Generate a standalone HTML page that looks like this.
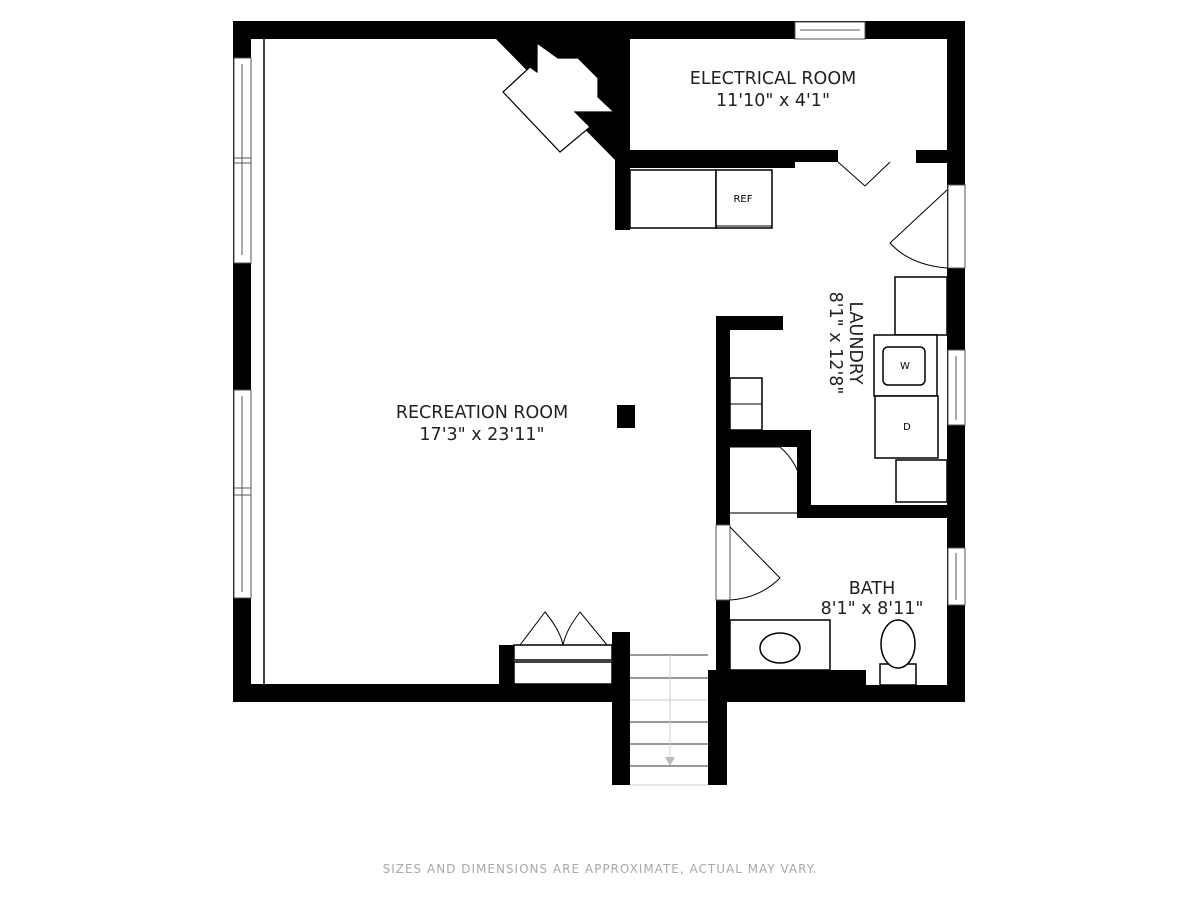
<!DOCTYPE html>
<html><head><meta charset="utf-8"><style>
html,body{margin:0;padding:0;background:#fff;}
svg{display:block;}
text{font-family:"DejaVu Sans","Liberation Sans",sans-serif;}
</style></head><body>
<svg width="1200" height="900" viewBox="0 0 1200 900" xmlns="http://www.w3.org/2000/svg">
<rect width="1200" height="900" fill="#fff"/>
<g fill="#000">
<rect x="233" y="21" width="732" height="18"/>
<rect x="233" y="21" width="18" height="681"/>
<rect x="947" y="21" width="18" height="681"/>
<rect x="233" y="684" width="397" height="18"/>
<rect x="716" y="685" width="249" height="17"/>
<rect x="728" y="670" width="138" height="16"/>
<rect x="612" y="632" width="18" height="153"/>
<rect x="708" y="670" width="19" height="115"/>
<rect x="499" y="645" width="15" height="40"/>
<polygon points="496,39 630,39 630,160 615,160"/>
<rect x="615" y="39" width="15" height="191"/>
<rect x="615" y="150" width="180" height="18"/>
<rect x="795" y="150" width="43" height="12"/>
<rect x="916" y="150" width="31" height="13"/>
<rect x="716" y="316" width="14" height="370"/>
<rect x="716" y="316" width="67" height="14"/>
<rect x="730" y="430" width="81" height="17"/>
<rect x="797" y="430" width="14" height="88"/>
<rect x="797" y="505" width="150" height="13"/>
<rect x="617" y="405" width="18" height="23"/>
</g>
<polygon points="537,43 558,58 578,58 598,78 598,97 614,112 575,112 590,127 560,152 503,92 530,67 537,72" fill="#fff" stroke="#000" stroke-width="1.2"/>
<g fill="#fff" stroke="#555" stroke-width="1">
<rect x="234" y="58" width="17" height="205"/>
<rect x="234" y="390" width="17" height="208"/>
<rect x="795" y="22" width="70" height="17"/>
<rect x="948" y="350" width="17" height="75"/>
<rect x="948" y="548" width="17" height="57"/>
</g>
<g stroke="#555" stroke-width="1">
<line x1="242" y1="64" x2="242" y2="255"/><line x1="234" y1="158" x2="251" y2="158"/><line x1="234" y1="163" x2="251" y2="163"/>
<line x1="242" y1="396" x2="242" y2="592"/><line x1="234" y1="488" x2="251" y2="488"/><line x1="234" y1="495" x2="251" y2="495"/>
<line x1="800" y1="30" x2="860" y2="30"/>
<line x1="956" y1="356" x2="956" y2="420"/>
<line x1="956" y1="553" x2="956" y2="600"/>
</g>
<rect x="948" y="185" width="17" height="83" fill="#fff" stroke="#555"/>
<rect x="716" y="525" width="14" height="75" fill="#fff" stroke="#555"/>
<line x1="264" y1="39" x2="264" y2="684" stroke="#000" stroke-width="1.5"/>
<g fill="#fff" stroke="#000" stroke-width="1.5">
<rect x="630" y="170" width="86" height="58"/>
<rect x="716" y="170" width="56" height="58"/>
<rect x="730" y="378" width="32" height="52"/>
<rect x="895" y="277" width="52" height="58"/>
<rect x="874" y="335" width="63" height="61"/>
<rect x="883" y="347" width="42" height="38" rx="5"/>
<rect x="875" y="396" width="63" height="62"/>
<rect x="896" y="460" width="51" height="42"/>
<rect x="730" y="620" width="100" height="50"/>
<ellipse cx="780" cy="648" rx="20" ry="15"/>
<rect x="880" y="664" width="36" height="21"/>
<ellipse cx="898" cy="644" rx="17" ry="24"/>
<rect x="514" y="645" width="98" height="15"/>
<rect x="514" y="662" width="98" height="22"/>
</g>
<line x1="730" y1="404" x2="762" y2="404" stroke="#000"/>
<line x1="716" y1="226" x2="772" y2="226" stroke="#000"/>
<text x="743" y="202" font-size="10" text-anchor="middle">REF</text>
<text x="905" y="369" font-size="10" text-anchor="middle">W</text>
<text x="907" y="430" font-size="10" text-anchor="middle">D</text>
<g fill="none" stroke="#000" stroke-width="1">
<polyline points="838,162 865,186 890,162"/>
<path d="M947,190 L890,243 Q910,265 947,268"/>
<path d="M730,527 L780,578 Q760,598 730,600"/>
<path d="M730,447 L780,447 Q795,460 800,478"/>
<path d="M520,645 L545,612 Q560,630 563,645 Q566,630 580,612 L607,645"/>
</g>
<line x1="730" y1="513" x2="797" y2="513" stroke="#777" stroke-width="2"/>
<g stroke="#333" stroke-width="1">
<line x1="630" y1="655" x2="708" y2="655"/><line x1="630" y1="678" x2="708" y2="678"/>
<line x1="630" y1="700" x2="708" y2="700" stroke="#ccc"/><line x1="630" y1="722" x2="708" y2="722"/>
<line x1="630" y1="744" x2="708" y2="744"/><line x1="630" y1="766" x2="708" y2="766"/>
<line x1="630" y1="785" x2="708" y2="785" stroke="#ccc"/>
<line x1="670" y1="655" x2="670" y2="760" stroke="#ccc"/>
</g>
<polygon points="665,757 675,757 670,766" fill="#bbb"/>
<g fill="#222" font-size="17.5" text-anchor="middle">
<text x="482" y="418">RECREATION ROOM</text>
<text x="482" y="440">17'3" x 23'11"</text>
<text x="773" y="84">ELECTRICAL ROOM</text>
<text x="773" y="106">11'10" x 4'1"</text>
<text x="872" y="594">BATH</text>
<text x="872" y="614">8'1" x 8'11"</text>
<g transform="translate(843,343) rotate(90)">
<text x="0" y="-7">LAUNDRY</text>
<text x="0" y="13">8'1" x 12'8"</text>
</g>
</g>
<text x="600" y="873" font-size="12" fill="#a8a8a8" text-anchor="middle" letter-spacing="1">SIZES AND DIMENSIONS ARE APPROXIMATE, ACTUAL MAY VARY.</text>
</svg>
</body></html>
